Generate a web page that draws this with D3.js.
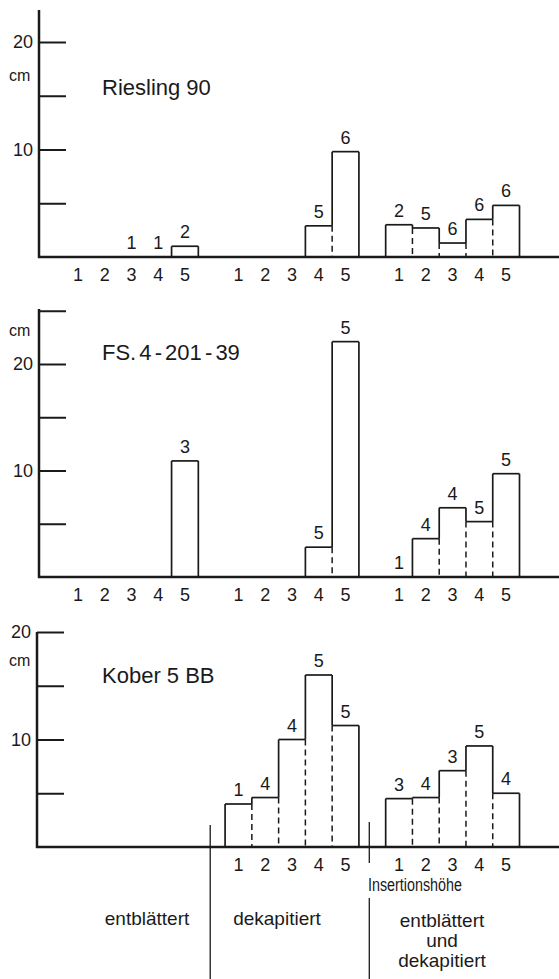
<!DOCTYPE html>
<html>
<head>
<meta charset="utf-8">
<script src="https://cdn.jsdelivr.net/npm/d3@7"></script>
<style>
  body { margin: 0; background: #fff; }
  svg text { font-family: "Liberation Sans", Arial, sans-serif; fill: #1a1a1a; }
</style>
</head>
<body>
<div id="chart"></div>
<script>
// data
var slotLabels = ["1", "2", "3", "4", "5"];
var groupNames = ["entblättert", "dekapitiert", "entblättert und dekapitiert"];
var panelTitles = ["Riesling 90", "FS. 4 - 201 - 39", "Kober 5 BB"];
var axisLabel = "Insertionshöhe";
var unitLabel = "cm";

// height in cm per group / insertion height, null = no bar
var rieslingHeights = [[null, null, 0, 0, 1.0], [null, null, null, 2.9, 9.8], [3.0, 2.7, 1.3, 3.5, 4.8]];
var rieslingCounts  = [[null, null, 1, 1, 2],   [null, null, null, 5, 6],    [2, 5, 6, 6, 6]];
var fsHeights = [[null, null, null, null, 10.9], [null, null, null, 2.8, 22.1], [0, 3.6, 6.5, 5.2, 9.7]];
var fsCounts  = [[null, null, null, null, 3],    [null, null, null, 5, 5],      [1, 4, 4, 5, 5]];
var koberHeights = [[null, null, null, null, null], [4.0, 4.6, 10.0, 16.0, 11.3], [4.5, 4.6, 7.1, 9.4, 5.0]];
var koberCounts  = [[null, null, null, null, null], [1, 4, 4, 5, 5],              [3, 4, 3, 5, 4]];

var W = 559, H = 979;
var ink = "#1a1a1a";

var svg = d3.select("#chart").append("svg")
    .attr("width", W)
    .attr("height", H);

// one slot per bar plus an empty slot between the groups
var slotKeys = []
groupNames.forEach(function(g, gi){
  slotLabels.forEach(function(s){ slotKeys.push(gi + "-" + s) })
  if (gi < groupNames.length - 1) slotKeys.push("gap" + gi)
})
var x = d3.scaleBand().domain(slotKeys).range([64.5, 519.5]).padding(0);

var panels = [
  {title: panelTitles[0], heights: rieslingHeights, counts: rieslingCounts,
   base: 257, y20: 42, top: 10, axisX: 39, ticks: [5, 10, 15, 20], cmY: 75, titleY: 87, labelGroups: [0, 1, 2]},
  {title: panelTitles[1], heights: fsHeights, counts: fsCounts,
   base: 577, y20: 364, top: 309, axisX: 39, ticks: [5, 10, 15, 20, 25], cmY: 330, titleY: 352, labelGroups: [0, 1, 2]},
  {title: panelTitles[2], heights: koberHeights, counts: koberCounts,
   base: 847, y20: 632, top: 632, axisX: 37, ticks: [5, 10, 15, 20], cmY: 660, titleY: 675, labelGroups: [1, 2]}
];

panels.forEach(function(p){
  var y = d3.scaleLinear().domain([0, 20]).range([p.base, p.y20]);
  var g = svg.append("g");

  // y axis: ticks pointing inward, labels only at 10 and 20
  var yAxis = d3.axisLeft(y)
      .tickValues(p.ticks)
      .tickSizeInner(-27)
      .tickSizeOuter(0)
      .tickPadding(6)
      .tickFormat(function(d){ return (d === 10 || d === 20) ? d : "" });
  var ya = g.append("g")
      .attr("transform", "translate(" + p.axisX + ",0)")
      .call(yAxis);
  ya.select(".domain").remove();
  ya.selectAll(".tick line").attr("stroke", ink).attr("stroke-width", 2);
  ya.selectAll(".tick text").attr("font-size", 18).attr("fill", ink);

  g.append("line")
      .attr("x1", p.axisX).attr("x2", p.axisX)
      .attr("y1", p.top).attr("y2", p.base + 1)
      .attr("stroke", ink).attr("stroke-width", 2.5);
  g.append("line")
      .attr("x1", p.axisX - 1).attr("x2", W)
      .attr("y1", p.base).attr("y2", p.base)
      .attr("stroke", ink).attr("stroke-width", 2.5);

  g.append("text")
      .attr("x", 9).attr("y", p.cmY)
      .attr("dy", "0.35em")
      .attr("font-size", 16)
      .text(unitLabel);

  g.append("text")
      .attr("x", 102).attr("y", p.titleY)
      .attr("dy", "0.35em")
      .attr("font-size", 22)
      .attr("word-spacing", p.title.indexOf("FS") === 0 ? -3 : 0)
      .text(p.title);

  // x tick labels
  var keys = []
  p.labelGroups.forEach(function(gi){
    slotLabels.forEach(function(s){ keys.push(gi + "-" + s) })
  })
  var xAxis = d3.axisBottom(x)
      .tickValues(keys)
      .tickSize(0)
      .tickPadding(11)
      .tickFormat(function(d){ return d.split("-")[1] });
  var xa = g.append("g")
      .attr("transform", "translate(0," + p.base + ")")
      .call(xAxis);
  xa.select(".domain").remove();
  xa.selectAll(".tick text").attr("font-size", 18).attr("fill", ink);

  // bars as outlines: shared borders dashed below the lower of the two bars
  p.heights.forEach(function(hs, gi){
    var keyOf = function(i){ return gi + "-" + slotLabels[i] }
    hs.forEach(function(h, i){
      if (h == null || h <= 0) return;
      g.append("line")
        .attr("x1", x(keyOf(i))).attr("x2", x(keyOf(i)) + x.bandwidth())
        .attr("y1", y(h)).attr("y2", y(h))
        .attr("stroke", ink).attr("stroke-width", 1.7);
    })
    for (var b = 0; b <= hs.length; b++){
      var hl = b > 0 ? (hs[b - 1] || 0) : 0;
      var hr = b < hs.length ? (hs[b] || 0) : 0;
      var hi = Math.max(hl, hr), lo = Math.min(hl, hr);
      if (hi <= 0) continue;
      var bx = b < hs.length ? x(keyOf(b)) : x(keyOf(b - 1)) + x.bandwidth();
      g.append("line")
        .attr("x1", bx).attr("x2", bx)
        .attr("y1", y(hi)).attr("y2", y(lo))
        .attr("stroke", ink).attr("stroke-width", 1.7);
      if (lo > 0){
        g.append("line")
          .attr("x1", bx).attr("x2", bx)
          .attr("y1", y(lo)).attr("y2", y(0))
          .attr("stroke", ink).attr("stroke-width", 1.5)
          .attr("stroke-dasharray", "6,4");
      }
    }
    // sample counts above the bars
    p.counts[gi].forEach(function(c, i){
      if (c == null) return;
      g.append("text")
        .attr("x", x(keyOf(i)) + x.bandwidth() / 2)
        .attr("y", y(hs[i] || 0) - 8)
        .attr("text-anchor", "middle")
        .attr("font-size", 18)
        .text(c);
    })
  })
})

// separators and group names under the last panel
var sep1 = x("gap0") + x.bandwidth() / 2 - 1.5
var sep2 = x("gap1") + x.bandwidth() / 2 - 3
svg.append("line").attr("x1", sep1).attr("x2", sep1).attr("y1", 825).attr("y2", 979)
    .attr("stroke", ink).attr("stroke-width", 1.3);
svg.append("line").attr("x1", sep2).attr("x2", sep2).attr("y1", 822).attr("y2", 863)
    .attr("stroke", ink).attr("stroke-width", 1.3);
svg.append("line").attr("x1", sep2).attr("x2", sep2).attr("y1", 898).attr("y2", 979)
    .attr("stroke", ink).attr("stroke-width", 1.3);

svg.append("text")
    .attr("x", 368).attr("y", 885).attr("dy", "0.35em")
    .attr("font-size", 18)
    .attr("textLength", 94)
    .attr("lengthAdjust", "spacingAndGlyphs")
    .text(axisLabel);

svg.append("text")
    .attr("x", 147).attr("y", 918).attr("dy", "0.35em")
    .attr("text-anchor", "middle").attr("font-size", 19)
    .text(groupNames[0]);
svg.append("text")
    .attr("x", 277).attr("y", 918).attr("dy", "0.35em")
    .attr("text-anchor", "middle").attr("font-size", 19)
    .text(groupNames[1]);
var lines3 = ["entblättert", "und", "dekapitiert"]
svg.append("text")
    .attr("text-anchor", "middle").attr("font-size", 19)
    .selectAll("tspan").data(lines3).enter().append("tspan")
    .attr("x", 442)
    .attr("y", function(d, i){ return 920 + i * 20 })
    .attr("dy", "0.35em")
    .text(function(d){ return d });
</script>
</body>
</html>
